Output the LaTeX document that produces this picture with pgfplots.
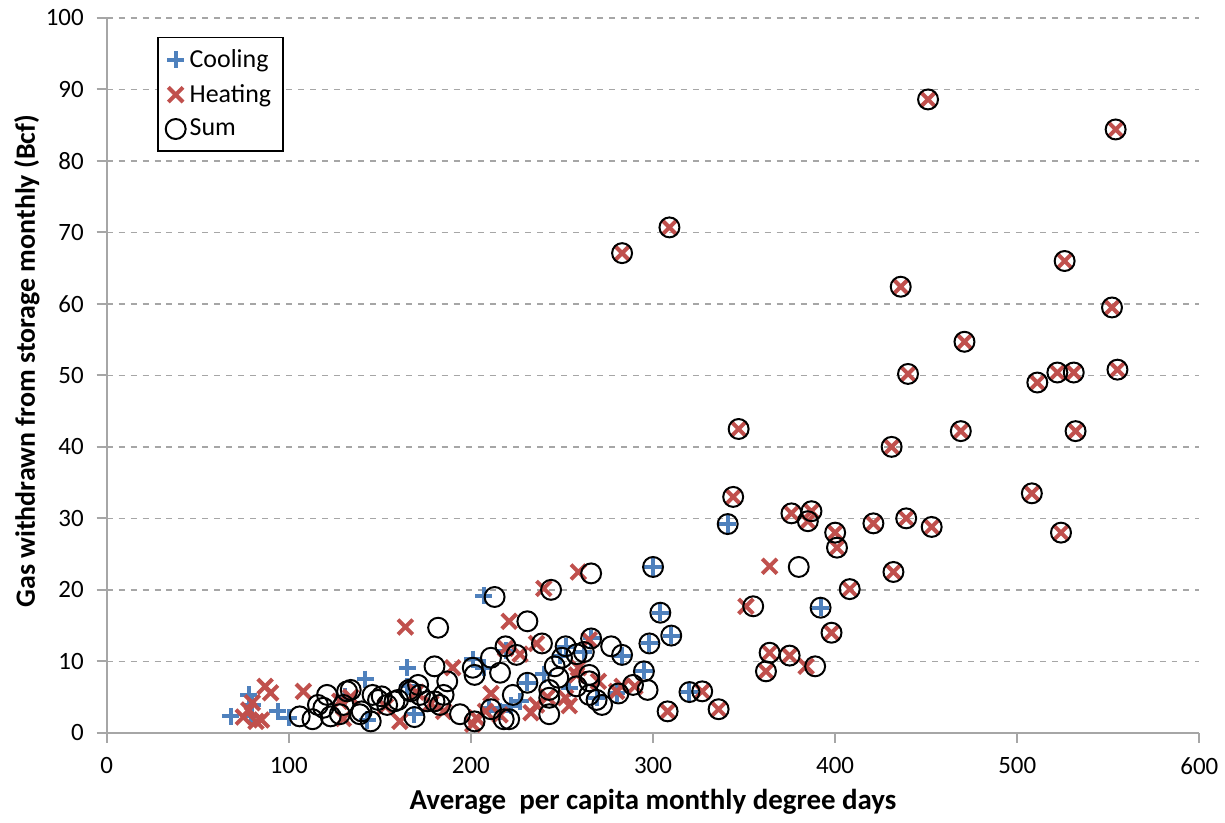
\documentclass[border=0pt]{standalone}
\usepackage{pgfplots}
\pgfplotsset{compat=1.18}
\usepackage{fontspec}
\setmainfont{Carlito}
\definecolor{cblue}{HTML}{4F81BD}
\definecolor{cred}{HTML}{C0504D}
\definecolor{gridgray}{HTML}{A6A6A6}
\begin{document}
\begin{tikzpicture}
\begin{axis}[
  scale only axis,
  width=548pt, height=358.5pt,
  xmin=0, xmax=600, ymin=0, ymax=100,
  xtick={0,100,...,600}, ytick={0,10,...,100},
  axis x line*=bottom, axis y line*=left,
  axis line style={gridgray, line width=1pt},
  tick style={gridgray, line width=1pt},
  tick align=outside,
  major tick length=5pt,
  ymajorgrids,
  grid style={gridgray, dashed, line width=0.8pt},
  /pgf/number format/assume math mode=true,
  ticklabel style={font=\fontsize{12.5}{14}\selectfont},
  xticklabel style={yshift=-4pt},
  yticklabel style={xshift=-3pt},
  xlabel={\textbf{Average~ per capita monthly degree days}},
  ylabel={\textbf{Gas withdrawn from storage monthly (Bcf)}},
  xlabel style={font=\fontsize{14.5}{16}\selectfont, at={(axis description cs:0.5,0)}, anchor=center, yshift=-34.5pt},
  ylabel style={font=\fontsize{14}{16}\selectfont, at={(axis description cs:-0.073,0.52)}, anchor=center},
  legend style={at={(0.046,0.974)}, anchor=north west, draw=black, line width=0.8pt,
     font=\fontsize{13}{15}\selectfont, row sep=3pt, inner xsep=4pt, inner ysep=4pt},
  legend cell align=left,
  clip=false,
]
\addplot[only marks, mark=+, mark size=4.3pt, mark options={cblue, line width=2pt}] coordinates {
(68,2.3) (78,5.3) (80,3.9) (79,2.3) (94,3.0) (100,2.1) (131,5.0) (142,7.5) (143,1.8)
(165,9.1) (165,6.5) (169,2.6) (201,10.3) (207,19.2) (207,9.1) (210,3.5) (216,3.0)
(219,11.5) (222,3.8) (227,4.4) (231,7.0) (240,8.2) (249,10.8) (252,12.0) (254,6.2)
(262,11.3) (266,13.2) (269,4.9) (280,5.5) (283,10.8) (295,8.7) (298,12.5) (300,23.2)
(304,16.8) (310,13.6) (320,5.7) (341,29.2) (392,17.5)
};
\addlegendentry{Cooling}
\addplot[only marks, mark=x, mark size=5.2pt, mark options={cred, line width=2pt}] coordinates {
(75,2.2) (78,3.2) (80,4.2) (82,1.6) (85,1.8) (87,6.5) (90,5.6) (108,5.8) (128,4.4)
(130,2.0) (134,5.0) (153,3.7) (161,1.6) (164,14.8) (170,5.7) (178,4.1) (185,3.0)
(190,9.1) (201,1.2) (203,2.1) (208,3.0) (211,5.5) (216,2.5) (219,11.8) (221,15.6)
(227,11.0) (233,2.8) (236,3.9) (236,12.5) (240,20.2) (242,5.0) (252,4.9) (254,3.8)
(258,8.1) (259,9.1) (259,22.5) (265,13.0) (270,7.2) (280,5.8) (283,6.5) (290,6.5)
(308,3.0) (327,5.8) (336,3.3) (344,33.0) (347,42.5) (351,17.7) (362,8.6) (364,23.3)
(364,11.2) (375,10.8) (376,30.7) (384,9.3) (385,29.6) (387,31.0) (398,14.0) (400,28.0)
(401,25.9) (408,20.1) (421,29.3) (431,40.0) (432,22.5) (436,62.4) (439,30.0) (440,50.2)
(451,88.6) (453,28.8) (469,42.2) (471,54.7) (508,33.5) (511,49.0) (522,50.4) (524,28.0)
(526,66.0) (531,50.4) (532,42.2) (552,59.5) (554,84.4) (555,50.8) (283,67.1) (309,70.7)
};
\addlegendentry{Heating}
\addplot[only marks, mark=o, mark size=5pt, mark options={black, line width=1pt}] coordinates {
(106,2.3) (113,1.9) (116,3.9) (119,3.5) (121,5.3) (123,2.3) (128,2.6) (130,3.9) (132,5.8)
(134,6.0) (139,2.6) (140,3.0) (145,1.6) (146,5.3) (149,4.6) (151,5.1) (154,3.9) (158,4.4)
(160,4.6) (166,6.0) (167,5.8) (169,2.2) (171,6.7) (172,5.3) (176,4.4) (180,4.4) (180,9.3)
(182,14.7) (183,3.9) (185,5.3) (187,7.2) (194,2.6) (201,9.1) (202,8.1) (202,1.6) (211,10.5)
(211,3.3) (213,19.0) (216,8.4) (218,1.9) (219,12.1) (221,1.9) (223,5.3) (225,10.9) (231,15.6)
(231,7.0) (239,12.5) (243,2.6) (243,4.9) (243,6.0) (244,20.0) (246,9.3) (248,7.7) (250,10.5)
(252,12.1) (258,6.5) (258,11.0) (262,11.3) (265,8.1) (265,7.2) (265,5.3) (266,13.2) (266,22.3)
(269,4.6) (272,3.9) (277,12.1) (281,5.5) (283,10.9) (289,6.7) (295,8.6) (297,6.0) (298,12.5)
(300,23.2) (304,16.8) (308,3.0) (310,13.6) (320,5.7) (327,5.8) (336,3.3) (341,29.2) (344,33.0)
(347,42.5) (355,17.7) (362,8.6) (364,11.2) (375,10.8) (376,30.7) (380,23.2) (385,29.6)
(387,31.0) (389,9.3) (392,17.5) (398,14.0) (400,28.0) (401,25.9) (408,20.1) (421,29.3)
(431,40.0) (432,22.5) (436,62.4) (439,30.0) (440,50.2) (451,88.6) (453,28.8) (469,42.2)
(471,54.7) (508,33.5) (511,49.0) (522,50.4) (524,28.0) (526,66.0) (531,50.4) (532,42.2)
(552,59.5) (554,84.4) (555,50.8) (283,67.1) (309,70.7)
};
\addlegendentry{Sum}
\end{axis}
\path (current axis.south west) ++(-53.5pt,-45pt) coordinate (bbsw);
\path (current axis.north east) ++(11pt,9pt) coordinate (bbne);
\useasboundingbox (bbsw) rectangle (bbne);
\end{tikzpicture}
\end{document}
